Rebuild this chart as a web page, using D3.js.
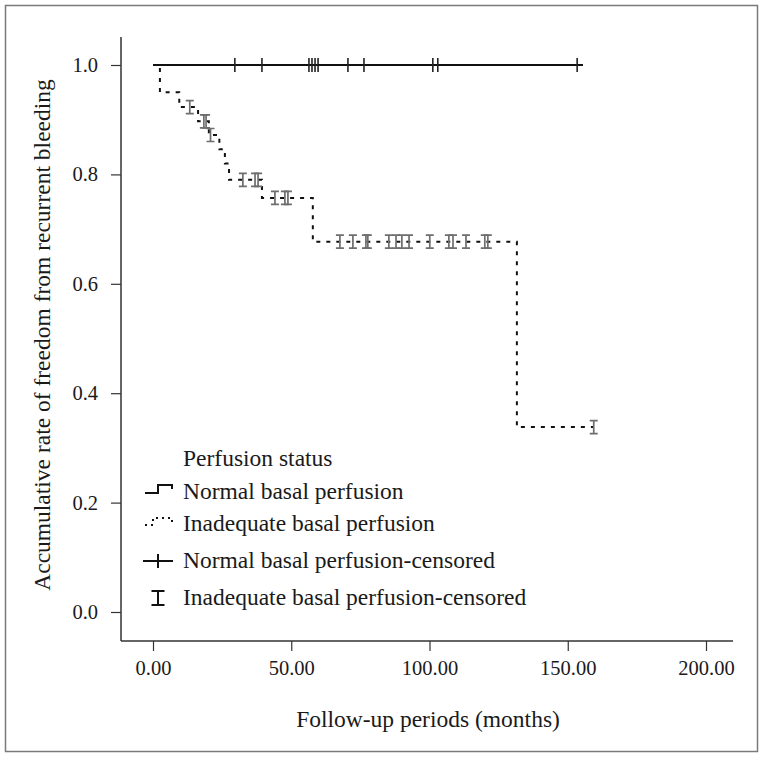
<!doctype html>
<html>
<head>
<meta charset="utf-8">
<title>Recurrent bleeding</title>
<script src="https://d3js.org/d3.v7.min.js"></script>
<style>
  body { margin: 0; background: #fff; }
  svg text { font-family: "Liberation Serif", "DejaVu Serif", serif; fill: #1a1a1a; }
</style>
</head>
<body>
<div id="chart"></div>
<script>
// tick labels
var xTicks = [0, 50, 100, 150, 200];
var yTicks = [0, 0.2, 0.4, 0.6, 0.8, 1.0];

// normal basal perfusion: no events, censored times (months)
var normalCensored = [29.6, 39.4, 56.4, 57.5, 58.6, 59.7, 70.5, 76.3, 101.2, 103.0, 153.4];
var normalEnd = 155.5;

// inadequate basal perfusion: step times and survival after each step
var inadTimes = [0, 2.5, 9.5, 16.3, 20.2, 24.0, 26.0, 27.5, 39.4, 57.8, 131.6];
var inadSurv  = [1.0, 0.95, 0.923, 0.897, 0.872, 0.846, 0.82, 0.79, 0.757, 0.677, 0.338];
var inadEnd = 159.4;
// censored times for inadequate group
var inadCensored = [13.3, 18.4, 19.2, 20.8, 32.5, 36.9, 38.0, 44.1, 47.7, 48.8,
                    67.6, 72.3, 77.0, 77.7, 85.3, 87.9, 90.0, 92.6, 100.1, 107.0,
                    108.5, 113.2, 120.0, 121.1, 159.4];

var legendLabels = ["Normal basal perfusion", "Inadequate basal perfusion",
                    "Normal basal perfusion-censored", "Inadequate basal perfusion-censored"];

var W = 765, H = 759;
var svg = d3.select("#chart").append("svg")
    .attr("width", W)
    .attr("height", H);

// outer frame
svg.append("rect")
    .attr("x", 5.5).attr("y", 5.5)
    .attr("width", 752).attr("height", 746)
    .style("fill", "none")
    .style("stroke", "#7a7a7a")
    .style("stroke-width", 1.5);

var x = d3.scaleLinear().domain([0, 200]).range([153, 706]);
var y = d3.scaleLinear().domain([0, 1]).range([612, 65]);

var axisX = 121, axisY = 641;

// axis lines
svg.append("line")
    .attr("x1", axisX).attr("x2", axisX)
    .attr("y1", 37).attr("y2", axisY)
    .style("stroke", "#333").style("stroke-width", 1.5);
svg.append("line")
    .attr("x1", axisX).attr("x2", 733)
    .attr("y1", axisY).attr("y2", axisY)
    .style("stroke", "#333").style("stroke-width", 1.5);

// x axis
var gx = svg.append("g")
    .attr("transform", "translate(0," + axisY + ")")
    .call(d3.axisBottom(x).tickValues(xTicks).tickSize(10).tickPadding(9)
        .tickFormat(d3.format(".2f")));
gx.select(".domain").remove();
gx.selectAll("line").style("stroke", "#333").style("stroke-width", 1.2);
gx.selectAll("text").style("font-size", "20.5px")
    .style("font-family", "'Liberation Serif', serif").attr("fill", "#1a1a1a");

// y axis
var gy = svg.append("g")
    .attr("transform", "translate(" + axisX + ",0)")
    .call(d3.axisLeft(y).tickValues(yTicks).tickSize(10).tickPadding(13)
        .tickFormat(d3.format(".1f")));
gy.select(".domain").remove();
gy.selectAll("line").style("stroke", "#333").style("stroke-width", 1.2);
gy.selectAll("text").style("font-size", "20.5px")
    .style("font-family", "'Liberation Serif', serif").attr("fill", "#1a1a1a");

// axis titles
svg.append("text")
    .attr("x", 428).attr("y", 727)
    .attr("text-anchor", "middle")
    .style("font-size", "23.5px")
    .text("Follow-up periods (months)");
svg.append("text")
    .attr("transform", "translate(50,335) rotate(-90)")
    .attr("text-anchor", "middle")
    .style("font-size", "23.5px")
    .text("Accumulative rate of freedom from recurrent bleeding");

// normal group line
svg.append("path")
    .datum([[0, 1], [normalEnd, 1]])
    .attr("d", d3.line().x(function(d) { return x(d[0]); }).y(function(d) { return y(d[1]); }))
    .style("fill", "none")
    .style("stroke", "#111")
    .style("stroke-width", 2.2);

// inadequate group step line
var inadPts = inadTimes.map(function(t, i) { return [t, inadSurv[i]]; });
inadPts.push([inadEnd, inadSurv[inadSurv.length - 1]]);
svg.append("path")
    .datum(inadPts)
    .attr("d", d3.line().curve(d3.curveStepAfter)
        .x(function(d) { return x(d[0]); }).y(function(d) { return y(d[1]); }))
    .style("fill", "none")
    .style("stroke", "#111")
    .style("stroke-width", 2)
    .style("stroke-dasharray", "4,6");

// survival value at time t for inadequate group
function inadAt(t) {
    var s = inadSurv[0];
    for (var i = 0; i < inadTimes.length; i++) {
        if (inadTimes[i] <= t) s = inadSurv[i];
    }
    return s;
}

// normal censored marks (+)
svg.selectAll(".ncens")
    .data(normalCensored)
  .enter().append("line")
    .attr("class", "ncens")
    .attr("x1", function(d) { return x(d); })
    .attr("x2", function(d) { return x(d); })
    .attr("y1", y(1) - 7)
    .attr("y2", y(1) + 7)
    .style("stroke", "#222")
    .style("stroke-width", 1.6);

// inadequate censored marks (I)
function iBeam(g, cx, cy, h, w) {
    g.append("path")
        .attr("d", "M" + (cx - w / 2) + "," + (cy - h / 2) + "h" + w +
                   "M" + cx + "," + (cy - h / 2) + "v" + h +
                   "M" + (cx - w / 2) + "," + (cy + h / 2) + "h" + w);
}
var ic = svg.append("g")
    .style("fill", "none")
    .style("stroke", "#6e6e6e")
    .style("stroke-width", 1.7);
inadCensored.forEach(function(t) {
    iBeam(ic, x(t), y(inadAt(t)), 13, 8);
});

// legend
var lx = 183;
svg.append("text")
    .attr("x", lx).attr("y", 466)
    .style("font-size", "23.5px")
    .text("Perfusion status");

var rowY = [499, 531, 568, 605];
svg.selectAll(".leg")
    .data(legendLabels)
  .enter().append("text")
    .attr("class", "leg")
    .attr("x", lx)
    .attr("y", function(d, i) { return rowY[i]; })
    .style("font-size", "23.5px")
    .text(function(d) { return d; });

var sym = svg.append("g")
    .style("fill", "none")
    .style("stroke", "#111")
    .style("stroke-width", 2);
// step symbol
sym.append("path")
    .attr("d", "M145," + (rowY[0] - 6) + "H158V" + (rowY[0] - 14) + "H172V" + (rowY[0] - 10));
// dotted step symbol
sym.append("path")
    .attr("d", "M145," + (rowY[1] - 6) + "H153V" + (rowY[1] - 13) + "H172V" + (rowY[1] - 8))
    .style("stroke-dasharray", "2,4");
// plus symbol
sym.append("path")
    .attr("d", "M143," + (rowY[2] - 7) + "H173M158," + (rowY[2] - 14) + "V" + rowY[2]);
// I symbol
var isym = svg.append("g")
    .style("fill", "none")
    .style("stroke", "#111")
    .style("stroke-width", 2);
iBeam(isym, 158, rowY[3] - 7, 14, 13);
</script>
</body>
</html>
